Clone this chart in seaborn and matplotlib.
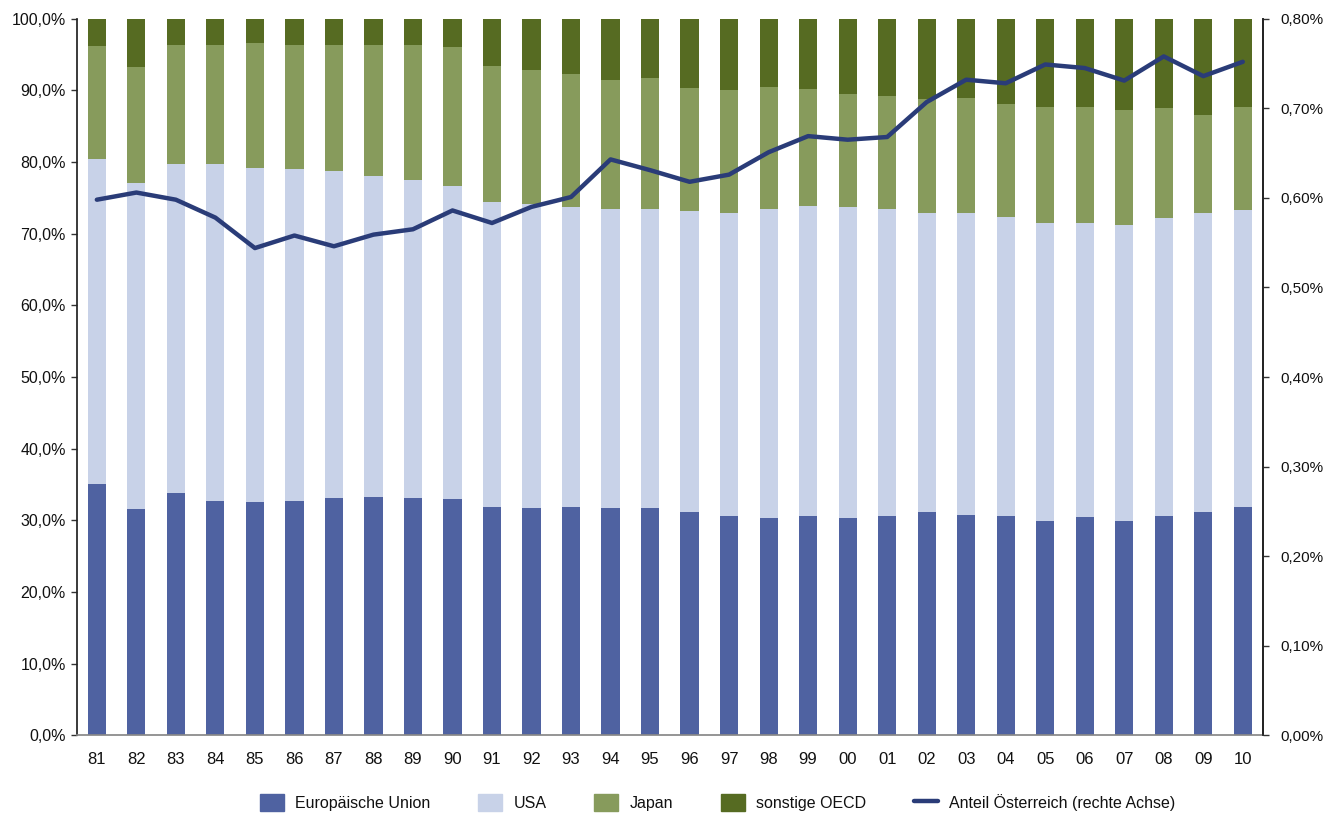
import numpy as np
import pandas as pd
import matplotlib
matplotlib.use("Agg")
import matplotlib.pyplot as plt
import matplotlib.patches as mpatches
import matplotlib.lines as mlines
from matplotlib.ticker import FuncFormatter, FixedLocator
import seaborn as sns

years = ["81", "82", "83", "84", "85", "86", "87", "88", "89", "90",
         "91", "92", "93", "94", "95", "96", "97", "98", "99", "00",
         "01", "02", "03", "04", "05", "06", "07", "08", "09", "10"]

# shares of total OECD, in percent
eu = [35.1, 31.6, 33.8, 32.7, 32.5, 32.7, 33.1, 33.2, 33.1, 33.0,
      31.8, 31.7, 31.8, 31.7, 31.7, 31.1, 30.6, 30.3, 30.6, 30.3,
      30.6, 31.2, 30.8, 30.6, 29.9, 30.4, 29.9, 30.6, 31.2, 31.8]
usa = [45.3, 45.5, 45.9, 47.0, 46.7, 46.3, 45.7, 44.9, 44.4, 43.7,
       42.6, 42.5, 41.9, 41.7, 41.7, 42.1, 42.3, 43.1, 43.3, 43.5,
       42.8, 41.7, 42.1, 41.7, 41.6, 41.1, 41.3, 41.6, 41.7, 41.5]
japan = [15.8, 16.2, 16.7, 16.7, 17.4, 17.4, 17.6, 18.3, 18.9, 19.4,
         19.0, 18.7, 18.6, 18.1, 18.3, 17.2, 17.2, 17.1, 16.3, 15.7,
         15.8, 15.9, 16.0, 15.8, 16.2, 16.2, 16.1, 15.3, 13.7, 14.4]
sonstige = [3.8, 6.7, 3.6, 3.6, 3.4, 3.6, 3.6, 3.6, 3.6, 3.9,
            6.6, 7.1, 7.7, 8.5, 8.3, 9.6, 9.9, 9.5, 9.8, 10.5,
            10.8, 11.2, 11.1, 11.9, 12.3, 12.3, 12.7, 12.5, 13.4, 12.3]

# Austria's share (right axis), in percent
austria = [0.598, 0.606, 0.598, 0.578, 0.544, 0.558, 0.546, 0.559, 0.565, 0.586,
           0.572, 0.590, 0.601, 0.643, 0.631, 0.618, 0.626, 0.651, 0.669, 0.665,
           0.668, 0.707, 0.732, 0.728, 0.749, 0.745, 0.731, 0.758, 0.736, 0.752]

labels = ["Europäische Union", "USA", "Japan", "sonstige OECD"]
colors = ["#4f62a1", "#c8d2e8", "#879b5c", "#566b22"]
line_color = "#2a3c78"

sns.set_theme(style="white")
plt.rcParams["font.family"] = ["Liberation Sans", "DejaVu Sans"]

df = pd.DataFrame({"Jahr": years, "EU": eu, "USA": usa, "Japan": japan, "Sonst": sonstige})
df["c1"] = df["EU"]
df["c2"] = df["c1"] + df["USA"]
df["c3"] = df["c2"] + df["Japan"]
df["c4"] = df["c3"] + df["Sonst"]

fig, ax = plt.subplots(figsize=(13.29, 8.17), dpi=100)
fig.subplots_adjust(left=0.058, right=0.950, bottom=0.100, top=0.977)

# stacked bars: draw cumulative totals from the top layer down
for col, c in zip(["c4", "c3", "c2", "c1"], colors[::-1]):
    sns.barplot(data=df, x="Jahr", y=col, color=c, width=0.46,
                saturation=1, ax=ax, order=years, linewidth=0)

n = len(years)
ax.set_xlim(-0.5, n - 0.5)
ax.set_ylim(0, 100)
ax.set_xlabel("")
ax.set_ylabel("")
ax.yaxis.set_major_locator(FixedLocator(np.arange(0, 101, 10)))
ax.yaxis.set_major_formatter(FuncFormatter(lambda v, p: f"{v:.1f}%".replace(".", ",")))
ax.xaxis.set_minor_locator(FixedLocator(np.arange(-0.5, n, 1)))
ax.tick_params(axis="x", which="major", length=0, pad=12, labelsize=12, labelcolor="#111111")
ax.tick_params(axis="x", which="minor", length=6, width=1, color="#333333", direction="out")
ax.tick_params(axis="y", length=4, width=1, color="#333333", direction="out",
               labelsize=11.5, pad=4, labelcolor="#111111")
ax.spines["top"].set_visible(False)
ax.spines["left"].set_color("#222222")
ax.spines["right"].set_color("#222222")
ax.spines["bottom"].set_color("#888888")

ax2 = ax.twinx()
sns.lineplot(x=np.arange(n), y=austria, color=line_color, linewidth=3.2, ax=ax2)
ax2.set_ylim(0, 0.8)
ax2.set_xlim(-0.5, n - 0.5)
ax2.yaxis.set_major_locator(FixedLocator(np.arange(0, 0.81, 0.1)))
ax2.yaxis.set_major_formatter(FuncFormatter(lambda v, p: f"{v:.2f}%".replace(".", ",")))
ax2.tick_params(axis="y", length=4, width=1, color="#333333", direction="out",
                labelsize=11, pad=9, labelcolor="#111111")
ax2.spines["top"].set_visible(False)
ax2.spines["left"].set_visible(False)
ax2.spines["bottom"].set_visible(False)
ax2.spines["right"].set_color("#222222")
ax2.grid(False)

handles = [mpatches.Patch(color=c, label=l) for c, l in zip(colors, labels)]
handles.append(mlines.Line2D([], [], color=line_color, linewidth=3.2,
                             label="Anteil Österreich (rechte Achse)"))
fig.legend(handles=handles, loc="center", bbox_to_anchor=(0.54, 0.018), ncol=5,
           frameon=False, fontsize=11.5, handlelength=1.5, handleheight=1.3,
           columnspacing=3.0, handletextpad=0.7, labelcolor="#111111")

fig.savefig("out.png", dpi=100)
